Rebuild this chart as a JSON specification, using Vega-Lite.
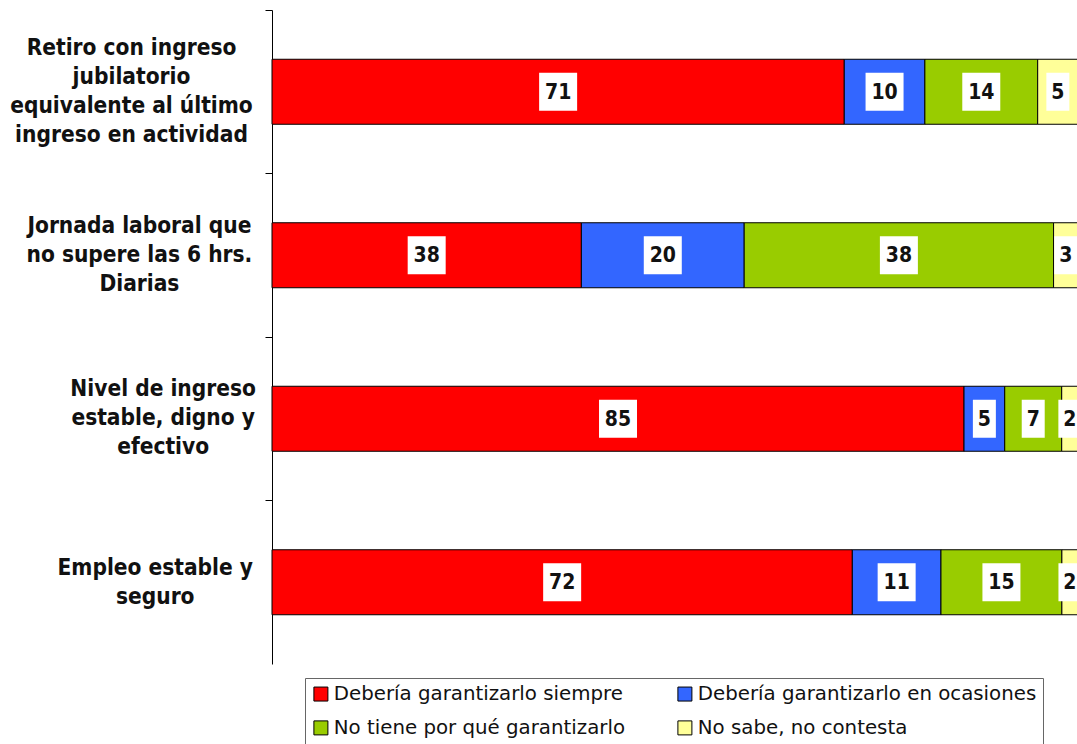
{
  "$schema": "https://vega.github.io/schema/vega-lite/v6.json",
  "autosize": "none",
  "width": 806,
  "height": 654,
  "padding": {"left": 272, "top": 10, "right": 0, "bottom": 80},
  "background": "white",
  "config": {"view": {"stroke": null}},
  "data": {
    "values": [
      {"cat": "Retiro con ingreso jubilatorio equivalente al último ingreso en actividad", "s": "Debería garantizarlo siempre", "v": 71},
      {"cat": "Retiro con ingreso jubilatorio equivalente al último ingreso en actividad", "s": "Debería garantizarlo en ocasiones", "v": 10},
      {"cat": "Retiro con ingreso jubilatorio equivalente al último ingreso en actividad", "s": "No tiene por qué garantizarlo", "v": 14},
      {"cat": "Retiro con ingreso jubilatorio equivalente al último ingreso en actividad", "s": "No sabe, no contesta", "v": 5},
      {"cat": "Jornada laboral que no supere las 6 hrs. Diarias", "s": "Debería garantizarlo siempre", "v": 38},
      {"cat": "Jornada laboral que no supere las 6 hrs. Diarias", "s": "Debería garantizarlo en ocasiones", "v": 20},
      {"cat": "Jornada laboral que no supere las 6 hrs. Diarias", "s": "No tiene por qué garantizarlo", "v": 38},
      {"cat": "Jornada laboral que no supere las 6 hrs. Diarias", "s": "No sabe, no contesta", "v": 3},
      {"cat": "Nivel de ingreso estable, digno y efectivo", "s": "Debería garantizarlo siempre", "v": 85},
      {"cat": "Nivel de ingreso estable, digno y efectivo", "s": "Debería garantizarlo en ocasiones", "v": 5},
      {"cat": "Nivel de ingreso estable, digno y efectivo", "s": "No tiene por qué garantizarlo", "v": 7},
      {"cat": "Nivel de ingreso estable, digno y efectivo", "s": "No sabe, no contesta", "v": 2},
      {"cat": "Empleo estable y seguro", "s": "Debería garantizarlo siempre", "v": 72},
      {"cat": "Empleo estable y seguro", "s": "Debería garantizarlo en ocasiones", "v": 11},
      {"cat": "Empleo estable y seguro", "s": "No tiene por qué garantizarlo", "v": 15},
      {"cat": "Empleo estable y seguro", "s": "No sabe, no contesta", "v": 2}
    ]
  },
  "transform": [
    {"calculate": "indexof(['Debería garantizarlo siempre','Debería garantizarlo en ocasiones','No tiene por qué garantizarlo','No sabe, no contesta'], datum.s)", "as": "k"},
    {"stack": "v", "groupby": ["cat"], "offset": "normalize", "sort": [{"field": "k", "order": "ascending"}], "as": ["x0", "x1"]},
    {"calculate": "(datum.x0 + datum.x1) / 2", "as": "mid"}
  ],
  "encoding": {
    "y": {
      "field": "cat",
      "type": "nominal",
      "sort": null,
      "title": null,
      "scale": {"paddingInner": 0, "paddingOuter": 0},
      "axis": {
        "labelExpr": "indexof(datum.value, 'Retiro') === 0 ? ['Retiro con ingreso', 'jubilatorio', 'equivalente al último', 'ingreso en actividad'] : indexof(datum.value, 'Jornada') === 0 ? ['', '\u2800Jornada laboral que', '\u2800no supere las 6 hrs.', '\u2800Diarias'] : indexof(datum.value, 'Nivel') === 0 ? ['', '\u2800\u2800\u2800\u2800Nivel de ingreso', '\u2800\u2800\u2800\u2800estable, digno y', '\u2800\u2800\u2800\u2800efectivo'] : ['', '\u2800\u2800\u2800Empleo estable y', '\u2800\u2800\u2800seguro']",
        "labelFont": "DejaVu Sans Condensed",
        "labelFontWeight": "bold",
        "labelFontSize": 22.5,
        "labelLineHeight": 29,
        "labelColor": "#111",
        "labelAlign": "center",
        "labelBaseline": {
          "condition": {"test": "indexof(datum.value, 'Jornada') === 0 || indexof(datum.value, 'Nivel') === 0", "value": "line-bottom"},
          "value": "middle"
        },
        "labelOffset": -43.5,
        "labelLimit": 500,
        "labelPadding": 134,
        "bandPosition": 0,
        "tickSize": 7,
        "tickColor": "#000",
        "domainColor": "#000",
        "domainWidth": 1,
        "tickWidth": 1,
        "grid": false
      }
    }
  },
  "layer": [
    {
      "mark": {"type": "bar", "height": 65, "stroke": "#000", "strokeWidth": 1},
      "encoding": {
        "x": {"field": "x0", "type": "quantitative", "scale": {"domain": [0, 1], "nice": false}, "axis": null},
        "x2": {"field": "x1"},
        "color": {
          "field": "s",
          "type": "nominal",
          "scale": {
            "domain": ["Debería garantizarlo siempre", "Debería garantizarlo en ocasiones", "No tiene por qué garantizarlo", "No sabe, no contesta"],
            "range": ["#FF0000", "#3366FF", "#99CC00", "#FFFF99"]
          },
          "legend": {
            "title": null,
            "orient": "none",
            "direction": "horizontal",
            "legendX": 33,
            "legendY": 668,
            "columns": 2,
            "columnPadding": 50,
            "rowPadding": 13,
            "padding": 6,
            "strokeColor": "#666",
            "fillColor": "white",
            "symbolType": "square",
            "symbolSize": 196,
            "symbolStrokeColor": "#000",
            "symbolStrokeWidth": 1,
            "symbolOpacity": 1,
            "labelFont": "DejaVu Sans",
            "labelFontSize": 19.8,
            "labelColor": "#111",
            "labelOffset": 3,
            "labelLimit": 500
          }
        }
      }
    },
    {
      "transform": [{"filter": "datum.v >= 10"}],
      "mark": {"type": "point", "shape": "M-1,-1L1,-1L1,1L-1,1Z", "size": 1444, "filled": true, "fill": "white", "opacity": 1, "strokeWidth": 0},
      "encoding": {
        "x": {"field": "mid", "type": "quantitative"}
      }
    },
    {
      "transform": [{"filter": "datum.v < 10"}],
      "mark": {"type": "point", "shape": "M-0.605,-1L0.605,-1L0.605,1L-0.605,1Z", "size": 1444, "filled": true, "fill": "white", "opacity": 1, "strokeWidth": 0},
      "encoding": {
        "x": {"field": "mid", "type": "quantitative"}
      }
    },
    {
      "mark": {"type": "text", "font": "DejaVu Sans Condensed", "fontWeight": "bold", "fontSize": 21, "color": "#111", "baseline": "middle", "align": "center", "dy": 1},
      "encoding": {
        "x": {"field": "mid", "type": "quantitative"},
        "text": {"field": "v", "type": "quantitative"}
      }
    }
  ]
}
